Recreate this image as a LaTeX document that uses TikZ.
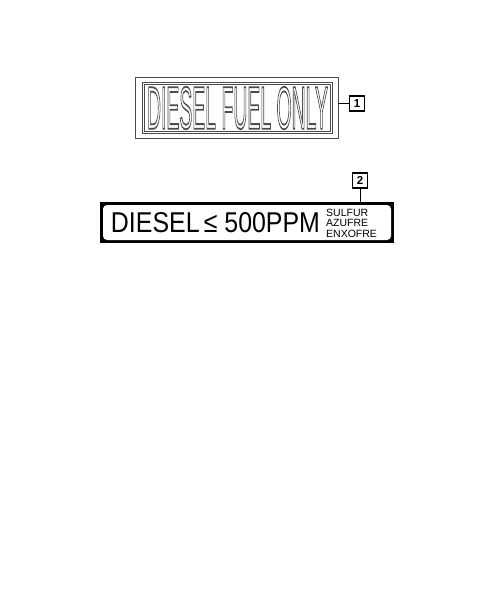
\documentclass[tikz,border=0pt]{standalone}
\usepackage{fontspec}
\setmainfont{Liberation Sans}
\usepackage{graphicx}
\newcommand{\outlinetext}[1]{\special{pdf:literal direct 1 Tr 0.3 w 0.3 G}#1\special{pdf:literal direct 0 Tr 0 G}}
\tikzset{
  callout/.style={draw, line width=1.3pt, inner sep=0pt, minimum width=15pt, minimum height=15pt, font=\bfseries\fontsize{11.5}{11.5}\selectfont},
  leader/.style={line width=0.7pt},
}
\begin{document}
\begin{tikzpicture}[x=1pt,y=-1pt]
  \useasboundingbox (0,0) rectangle (485,589);
  % decal 1
  \node[draw=black!70, line width=0.6pt, minimum width=203pt, minimum height=61pt, inner sep=0pt] (decal1) at (236.5,107.5) {};
  \node[draw=black!70, double, double distance=1.2pt, line width=0.5pt, minimum width=188pt, minimum height=49pt, inner sep=0pt] (frame1) at (237.5,108) {};
  \node[inner sep=0pt] (text1) at (237.5,108) {\resizebox{181pt}{42pt}{\outlinetext{DIESEL FUEL ONLY}}};
  \node[callout] (c1) at (357,103.5) {1};
  \draw[leader] (c1.west) -- (c1.west -| decal1.east);
  % decal 2
  \node[fill=black, minimum width=294pt, minimum height=41pt, inner sep=0pt] (decal2) at (247,222.5) {};
  \node[fill=white, rounded corners=4pt, minimum width=288pt, minimum height=35pt, inner sep=0pt] (frame2) at (247,222.5) {};
  \node[inner sep=0pt] (text2) at (215.5,223) {\resizebox{209pt}{20pt}{DIESEL\,≤ 500PPM}};
  \node[anchor=west, inner sep=0pt, align=left, font=\fontsize{10.5}{10.5}\selectfont] (sulfur) at (326,223) {SULFUR\\AZUFRE\\ENXOFRE};
  \node[callout] (c2) at (360,180.5) {2};
  \draw[leader] (c2.south) -- (c2.south |- decal2.north);
\end{tikzpicture}
\end{document}
